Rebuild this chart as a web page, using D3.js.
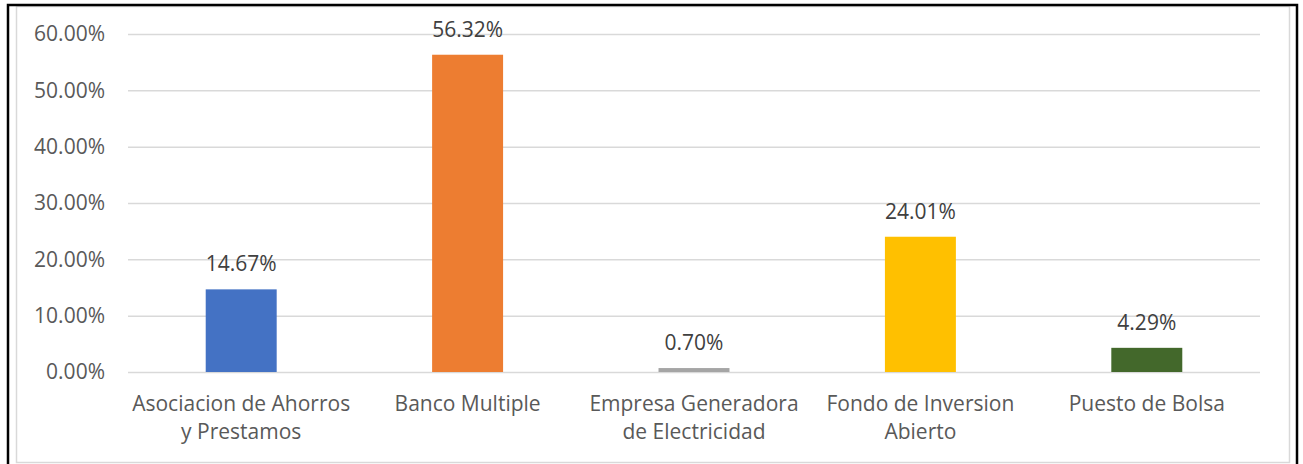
<!DOCTYPE html>
<html>
<head>
<meta charset="utf-8">
<script src="https://cdn.jsdelivr.net/npm/d3@7"></script>
<style>
  body { margin: 0; background: #fff; }
  svg text { font-family: "Open Sans", sans-serif; }
</style>
</head>
<body>
<svg id="barchart"></svg>
<script>
// data
var categories = ["Asociacion de Ahorros y Prestamos", "Banco Multiple", "Empresa Generadora de Electricidad", "Fondo de Inversion Abierto", "Puesto de Bolsa"];
var values = [14.67, 56.32, 0.70, 24.01, 4.29];
var colors = ["#4472c4", "#ed7d31", "#a5a5a5", "#ffc000", "#43682b"];
var yTicks = [0, 10, 20, 30, 40, 50, 60];

var width = 1303, height = 464;
var svg = d3.select("#barchart").attr("width", width).attr("height", height);

// frame
svg.append("rect")
  .attr("x", 16.5).attr("y", 6.5).attr("width", 1273).attr("height", 456)
  .attr("fill", "none").attr("stroke", "#d9d9d9").attr("stroke-width", 1.5);
svg.append("rect")
  .attr("x", 8).attr("y", 5).attr("width", 1289).attr("height", 470)
  .attr("fill", "none").attr("stroke", "#000").attr("stroke-width", 2.5);

var plot = {left: 128, right: 1260, top: 34, bottom: 372};

var x = d3.scaleBand()
  .domain(categories)
  .range([plot.left, plot.right])
  .paddingInner(0).paddingOuter(0);

var y = d3.scaleLinear()
  .domain([0, 60])
  .range([plot.bottom, plot.top]);

// gridlines + y labels
var yAxis = svg.append("g")
  .attr("transform", "translate(" + plot.left + ",0)")
  .call(d3.axisLeft(y).tickValues(yTicks).tickSize(-(plot.right - plot.left)).tickPadding(23)
    .tickFormat(function(d) { return d.toFixed(2) + "%"; }));
yAxis.select(".domain").remove();
yAxis.selectAll(".tick line").attr("stroke", "#d9d9d9").attr("stroke-width", 1.5);
yAxis.selectAll(".tick text").attr("fill", "#595959").style("font-size", "21px");

// bars
var barW = x.bandwidth() / 3.19;
svg.selectAll("rect.bar")
  .data(values)
  .enter()
  .append("rect")
  .attr("class", "bar")
  .attr("x", function(d, i) { return x(categories[i]) + (x.bandwidth() - barW) / 2; })
  .attr("width", barW)
  .attr("y", function(d) { return y(d); })
  .attr("height", function(d) { return y(0) - y(d); })
  .attr("fill", function(d, i) { return colors[i]; });

// data labels
svg.selectAll("text.lbl")
  .data(values)
  .enter()
  .append("text")
  .attr("class", "lbl")
  .attr("x", function(d, i) { return x(categories[i]) + x.bandwidth() / 2; })
  .attr("y", function(d) { return y(d) - 18; })
  .attr("text-anchor", "middle")
  .attr("fill", "#404040")
  .style("font-size", "21px")
  .text(function(d) { return d.toFixed(2) + "%"; });

// category labels, wrapped to band width
var maxW = x.bandwidth() - 4;
categories.forEach(function(c, i) {
  var cx = x(c) + x.bandwidth() / 2;
  var t = svg.append("text")
    .attr("x", cx)
    .attr("y", 411)
    .attr("text-anchor", "middle")
    .attr("fill", "#595959")
    .style("font-size", "21px");
  var words = c.split(" "), line = [];
  var tspan = t.append("tspan").attr("x", cx).attr("dy", 0);
  words.forEach(function(w) {
    line.push(w);
    tspan.text(line.join(" "));
    if (tspan.node().getComputedTextLength() > maxW && line.length > 1) {
      line.pop();
      tspan.text(line.join(" "));
      line = [w];
      tspan = t.append("tspan").attr("x", cx).attr("dy", 28).text(w);
    }
  });
});
</script>
</body>
</html>
